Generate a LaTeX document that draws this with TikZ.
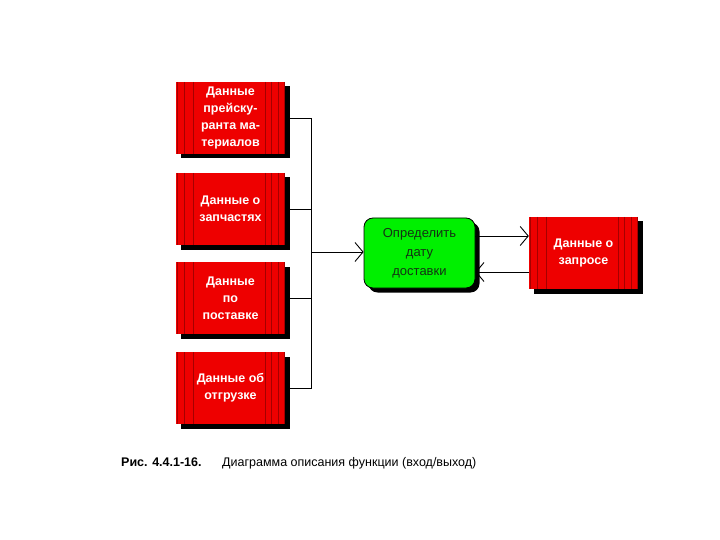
\documentclass[tikz,border=0pt]{standalone}
\usepackage{fontspec}
\setmainfont{Liberation Sans}
\usetikzlibrary{arrows.meta,shadows}
\definecolor{boxred}{RGB}{238,0,0}
\definecolor{stripered}{RGB}{165,0,0}
\definecolor{boxgreen}{RGB}{0,240,0}
\definecolor{greentext}{RGB}{20,50,20}
\tikzset{
  stripe/.style={stripered, line width=0.9pt},
  redbox/.style={
    fill=boxred, minimum width=109pt, minimum height=72pt, inner sep=0pt,
    align=center, text=white, font=\bfseries\fontsize{12.5}{17}\selectfont,
    drop shadow={shadow xshift=4.5pt, shadow yshift=-4.5pt, fill=black, opacity=1},
    path picture={
      \foreach \d in {1,8,17}{
        \draw[stripe] ([xshift=\d pt]path picture bounding box.north west) -- ([xshift=\d pt]path picture bounding box.south west);}
      \foreach \d in {1,7,14,20}{
        \draw[stripe] ([xshift=-\d pt]path picture bounding box.north east) -- ([xshift=-\d pt]path picture bounding box.south east);}
    }},
  funcbox/.style={
    fill=boxgreen, draw=black, line width=0.8pt, rounded corners=9pt,
    minimum width=111pt, minimum height=70pt, inner sep=0pt, align=center,
    text=greentext, font=\fontsize{13}{19}\selectfont,
    drop shadow={shadow xshift=4.5pt, shadow yshift=-4.5pt, fill=black, opacity=1}},
  conn/.style={black, line width=0.9pt},
  arr/.style={conn, -{Straight Barb[length=8pt,width=19pt,line width=0.9pt]}}
}
\begin{document}
\begin{tikzpicture}[x=1pt,y=-1pt]
\useasboundingbox (0,0) rectangle (720,540);
\node[redbox] (d1) at (230.5,118) {Данные\\прейску-\\ранта ма-\\териалов};
\node[redbox] (d2) at (230.5,209) {Данные о\\запчастях};
\node[redbox] (d3) at (230.5,298) {Данные\\по\\поставке};
\node[redbox] (d4) at (230.5,388) {Данные об\\отгрузке};
\node[funcbox] (f) at (419.5,253) {\raisebox{-2pt}{\begin{tabular}{@{}c@{}}Определить\\дату\\доставки\end{tabular}}};
\node[redbox] (q) at (583.5,253) {Данные о\\запросе};
\coordinate (bus1) at (311,118);
\coordinate (bus4) at (311,388);
\coordinate (busm) at (311,252);
\draw[conn] (d1.east) -- (bus1) -- (bus4) -- (d4.east);
\draw[conn] (d2.east) -- (d2.east -| bus1);
\draw[conn] (d3.east) -- (d3.east -| bus1);
\draw[arr] (busm) -- (busm -| f.west);
\draw[arr] ([yshift=17pt]f.east) -- ([yshift=17pt]f.east -| q.west);
\draw[arr] ([yshift=-19pt]q.west) -- ([yshift=-19pt]q.west -| f.east);
\node[anchor=base west, font=\bfseries\fontsize{12.5}{14}\selectfont, inner sep=0pt] (cap1) at (121,466) {Рис. 4.4.1-16.};
\node[anchor=base west, font=\fontsize{12.5}{14}\selectfont, inner sep=0pt] (cap2) at (222,466) {Диаграмма описания функции (вход/выход)};
\end{tikzpicture}
\end{document}
